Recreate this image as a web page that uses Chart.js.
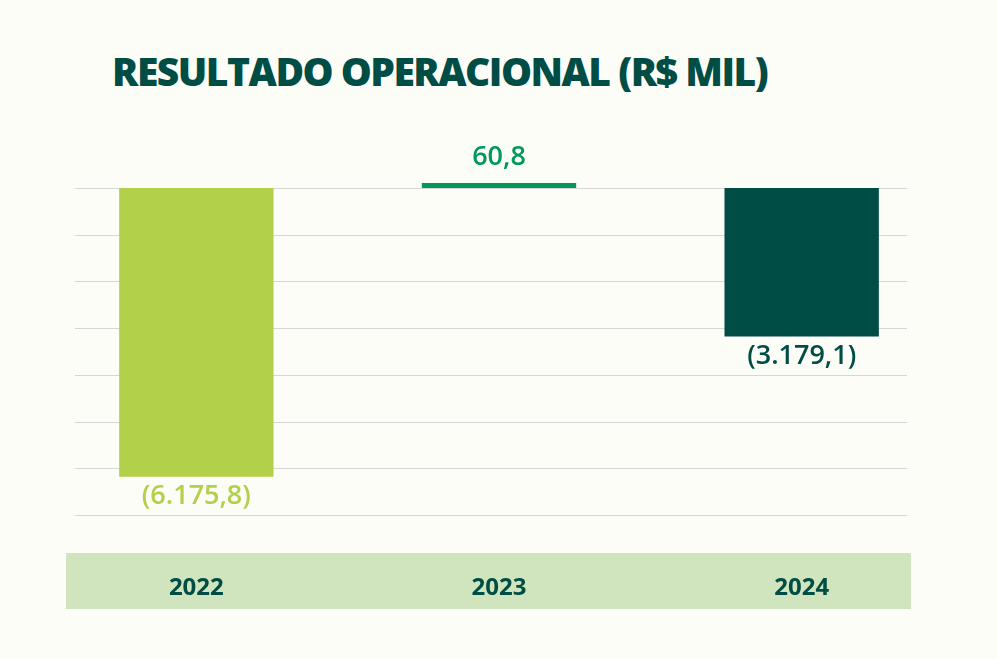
<!DOCTYPE html>
<html><head><meta charset="utf-8">
<script src="https://cdn.jsdelivr.net/npm/chart.js@4"></script>
<style>
html,body{margin:0;background:#FDFDF8;}
#wrap{position:relative;width:998px;height:659px;}
h1{position:absolute;left:112px;top:44px;margin:0;font:800 39px "Open Sans",sans-serif;letter-spacing:-1.5px;color:#004D46;white-space:nowrap;}
canvas{position:absolute;left:0;top:0;}
</style></head>
<body><div id="wrap"><h1>RESULTADO OPERACIONAL (R$ MIL)</h1><canvas id="c" width="998" height="659"></canvas></div>
<script>
const years=['2022','2023','2024'];
const values=[-6175.8,60.8,-3179.1];
const valueLabels=['(6.175,8)','60,8','(3.179,1)'];
const barColors=['#B2D04A','#00995A','#004D46'];
const labelColors=['#B2D04A','#00995A','#004D46'];

const bgPlugin={id:'bg',beforeDraw(ch){
  const c=ch.ctx,y=ch.scales.y;
  c.save();
  c.fillStyle='#D0E4BE';c.fillRect(66,553,845,56);
  c.strokeStyle='#D6D6D6';c.lineWidth=1.2;
  for(let v=0;v>=-7000;v-=1000){const p=Math.round(y.getPixelForValue(v))+0.5;c.beginPath();c.moveTo(75,p);c.lineTo(907,p);c.stroke();}
  c.restore();
}};
const lblPlugin={id:'lbl',afterDatasetsDraw(ch){
  const c=ch.ctx,meta=ch.getDatasetMeta(0);
  c.save();c.font='600 27px "Open Sans",sans-serif';c.textAlign='center';
  meta.data.forEach((b,i)=>{
    c.fillStyle=labelColors[i];
    if(values[i]<0){c.textBaseline='top';c.fillText(valueLabels[i],b.x,b.y+6);}
    else{c.textBaseline='bottom';c.fillText(valueLabels[i],b.x,b.y-12);}
  });
  c.restore();
}};

new Chart(document.getElementById('c'),{type:'bar',
  data:{labels:years,datasets:[{data:values,backgroundColor:barColors,borderWidth:0,clip:false,
    barPercentage:0.51,categoryPercentage:1,minBarLength:5}]},
  options:{responsive:false,animation:false,
    layout:{padding:{top:188,left:45,right:45,bottom:5}},
    plugins:{legend:{display:false},tooltip:{enabled:false}},
    scales:{
      y:{display:false,min:-7000,max:0},
      x:{grid:{display:false},border:{display:false},
         ticks:{color:'#004D46',padding:51,font:{family:'"Open Sans"',size:24,weight:'700'}}}
    }},
  plugins:[bgPlugin,lblPlugin]});
</script></body></html>
